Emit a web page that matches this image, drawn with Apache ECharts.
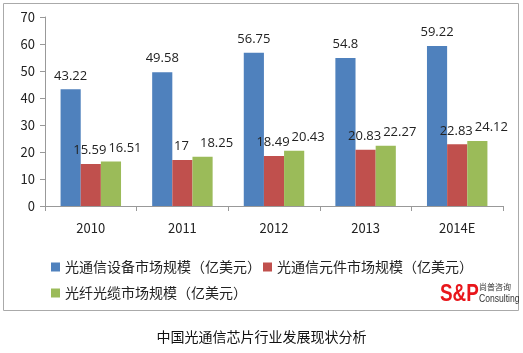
<!DOCTYPE html>
<html>
<head>
<meta charset="utf-8">
<script src="https://cdn.jsdelivr.net/npm/echarts@6/dist/echarts.min.js"></script>
<style>
  html, body { margin: 0; padding: 0; background: #fff; }
  #chart { width: 523px; height: 353px; }
</style>
</head>
<body>
<div id="chart"></div>
<script>
// data
const years = ['2010', '2011', '2012', '2013', '2014E']
const equipment = [43.22, 49.58, 56.75, 54.8, 59.22]
const components = [15.59, 17, 18.49, 20.83, 22.83]
const fiber = [16.51, 18.25, 20.43, 22.27, 24.12]
const seriesNames = [
  '光通信设备市场规模（亿美元）',
  '光通信元件市场规模（亿美元）',
  '光纤光缆市场规模（亿美元）',
]
const caption = '中国光通信芯片行业发展现状分析'

const font = '"Noto Sans CJK SC", "Noto Sans", sans-serif'
const colors = ['#4F81BD', '#C0504D', '#9BBB59']

const makeSeries = (name, data, color, shift) => ({
  name,
  type: 'bar',
  data,
  barGap: 0,
  barCategoryGap: '34%',
  itemStyle: { color },
  label: {
    show: true,
    position: 'top',
    distance: 7,
    offset: [shift, 0],
    color: '#222',
    fontSize: 13,
    fontFamily: '"Open Sans", "Noto Sans", sans-serif',
  },
})

const legendText = { fontSize: 14, color: '#222', fontFamily: font }

const chart = echarts.init(document.getElementById('chart'))
chart.setOption({
  animation: false,
  backgroundColor: '#fff',
  grid: { left: 45, right: 20, top: 17, bottom: 147 },
  legend: [
    {
      left: 46,
      top: 255,
      itemWidth: 9,
      itemHeight: 9,
      itemGap: 2,
      icon: 'rect',
      textStyle: legendText,
      data: seriesNames.slice(0, 2),
    },
    {
      left: 46,
      top: 281,
      itemWidth: 9,
      itemHeight: 9,
      icon: 'rect',
      textStyle: legendText,
      data: seriesNames.slice(2),
    },
  ],
  xAxis: {
    type: 'category',
    data: years,
    axisLine: { lineStyle: { color: '#999' } },
    axisTick: { show: true, length: 5, lineStyle: { color: '#999' } },
    axisLabel: { color: '#222', fontSize: 13, fontFamily: font, margin: 16 },
  },
  yAxis: {
    type: 'value',
    min: 0,
    max: 70,
    interval: 10,
    axisLine: { show: true, lineStyle: { color: '#999' } },
    axisTick: { show: true, length: 5, lineStyle: { color: '#999' } },
    splitLine: { show: false },
    axisLabel: { color: '#222', fontSize: 13, fontFamily: font, margin: 10 },
  },
  graphic: [
    {
      type: 'rect',
      shape: { x: 3.5, y: 3.5, width: 515, height: 307 },
      style: { fill: 'none', stroke: '#aaa', lineWidth: 1 },
      z: -1,
    },
    {
      type: 'text',
      x: 440,
      y: 283,
      scaleX: 0.82,
      style: { text: 'S&P', fill: '#e8161b', font: 'bold 23px "Liberation Sans", sans-serif' },
    },
    {
      type: 'text',
      x: 479,
      y: 283,
      style: { text: '尚普咨询', fill: '#333', font: '8px ' + font },
    },
    {
      type: 'text',
      x: 479,
      y: 293,
      scaleX: 0.78,
      style: { text: 'Consulting', fill: '#333', font: '11px "Liberation Sans", sans-serif' },
    },
    {
      type: 'text',
      left: 'center',
      top: 330,
      style: { text: caption, fill: '#111', font: '14px ' + font },
    },
  ],
  series: [
    makeSeries(seriesNames[0], equipment, colors[0], 0),
    makeSeries(seriesNames[1], components, colors[1], -1),
    makeSeries(seriesNames[2], fiber, colors[2], 14),
  ],
})
</script>
</body>
</html>
